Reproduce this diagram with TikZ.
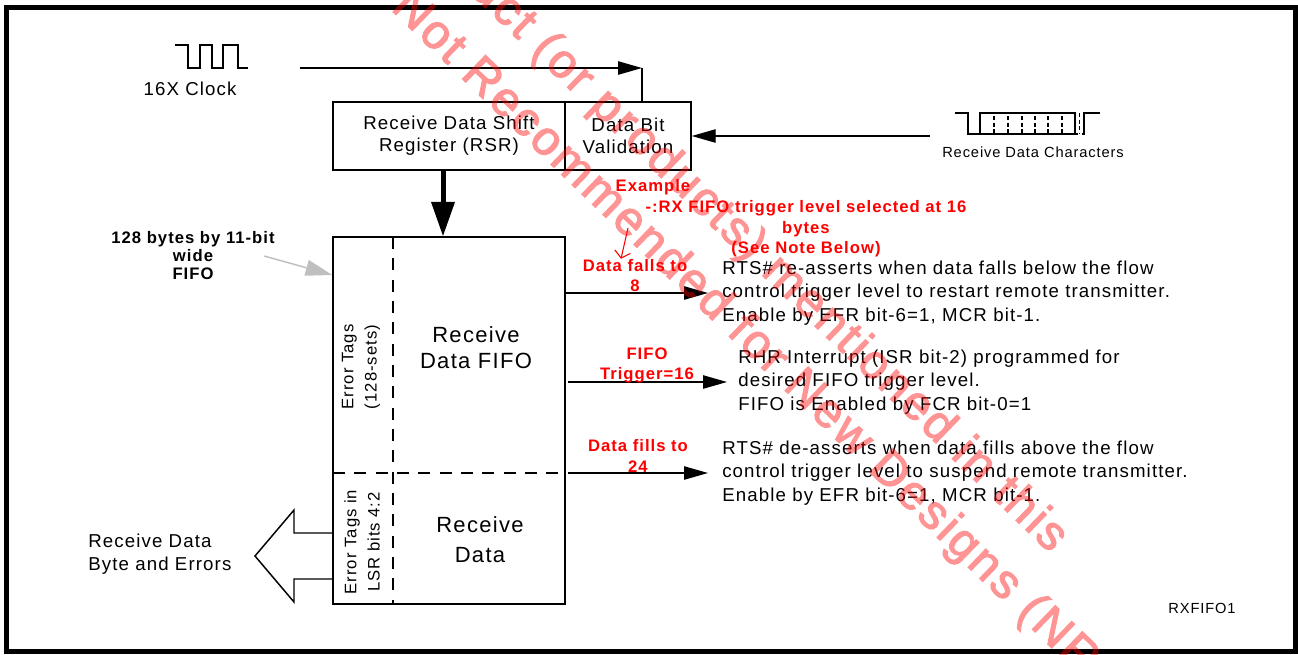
\documentclass[tikz,border=0pt]{standalone}
\usepackage{fontspec}
\setmainfont{Liberation Sans}[LetterSpace=6]
\newfontfamily\stampfont{Liberation Sans}[LetterSpace=6, FakeBold=2.5]
\usetikzlibrary{arrows.meta}

\begin{document}
\begin{tikzpicture}[x=0.75pt,y=-0.75pt]
\tikzset{line/.style = {draw, line width=1.1pt}}
\tikzset{edge/.style = {line, -{Triangle[length=18pt,width=10pt]}}}
\tikzset{bigedge/.style = {draw, line width=3.75pt, -{Triangle[length=26pt,width=17pt]}}}
\tikzset{greyedge/.style = {draw=black!25, fill=black!25, line width=1.1pt, -{Triangle[length=20pt,width=12pt]}}}
\tikzset{rednote/.style = {draw=red, line width=0.8pt, -{Straight Barb[length=5pt,width=12pt]}}}
\tikzset{dashline/.style = {line, dash pattern=on 9pt off 7pt}}
\tikzset{box/.style = {shape=rectangle, draw, line width=1.1pt, inner sep=0pt, align=center, font=\fontsize{14}{16.5}\selectfont}}
\tikzset{txt/.style = {inner sep=0pt, align=left, font=\fontsize{14}{17.6}\selectfont}}
\tikzset{desc/.style = {txt, anchor=west, inner xsep=10.5pt}}
\tikzset{small/.style = {inner sep=0pt, font=\fontsize{11}{13}\selectfont}}
\tikzset{bigtxt/.style = {inner sep=0pt, align=center, font=\fontsize{16.5}{20}\selectfont}}
\tikzset{sidetxt/.style = {inner sep=0pt, align=center, rotate=90, font=\fontsize{12.5}{17.5}\selectfont}}
\tikzset{boldlbl/.style = {inner sep=0pt, align=center, font=\fontsize{12.5}{13.5}\selectfont\bfseries}}
\tikzset{redlbl/.style = {inner sep=0pt, align=center, text=red, font=\fontsize{12.5}{15.5}\selectfont\bfseries}}
\tikzset{stamp/.style = {anchor=base west, rotate=-44, inner sep=0pt, text=red, font=\stampfont\fontsize{36}{43}\selectfont}}
\useasboundingbox (0,0) rectangle (1298,654);
\draw[line width=3.75pt] (6.5,7.5) rectangle (1295.5,651.5);

% shift register and validation
\node[box, minimum width=174pt, minimum height=51pt] (rsr) at (449,136) {Receive Data Shift\\Register (RSR)};
\node[box, minimum width=94.5pt, minimum height=51pt] (dbv) at (628,136) {Data Bit\\Validation};

% the fifo
\node[box, minimum width=174pt, minimum height=275pt] (fifo) at (449,420.5) {};
\draw[dashline] (393,237) -- (393,604);
\draw[dashline] (333,473) -- (565,473);
\node[sidetxt] (errtags) at (361,367) {Error Tags\\(128-sets)};
\node[sidetxt] (lsrtags) at (362,542) {Error Tags in\\LSR bits 4:2};
\node[bigtxt] (rxfifo) at (476,347.5) {Receive\\Data FIFO};
\node[bigtxt] (rxdata) at (480,539.5) {Receive\\[3pt]Data};

% clock
\draw[line] (175,45) -- (188,45) -- (188,68) -- (200,68) -- (200,45) -- (212,45) -- (212,68)
  -- (223,68) -- (223,45) -- (238,45) -- (238,68) -- (248,68);
\node[txt] (clk) at (190,89) {16X Clock};
\coordinate (clkin) at (300,68);
\coordinate (clkbend) at (642,68);
\draw[edge] (clkin) -- (clkbend);
\draw[line] (clkbend) -- (clkbend |- dbv.north);

% serial data
\draw[line] (955,113) -- (968,113) -- (968,134) -- (1078,134);
\draw[line] (980,134) -- (980,113) -- (1075,113) -- (1075,134);
\foreach \x in {994,1008,1022,1035,1048,1062}
  \draw[line width=1pt, dash pattern=on 3pt off 2pt] (\x,116) -- (\x,133);
\draw[line width=1pt, dash pattern=on 3pt off 2pt] (1079.5,113) -- (1079.5,134);
\draw[line] (1082,134) -- (1084,134) -- (1084,113) -- (1100,113);
\node[small] (rxchars) at (1033,152) {Receive Data Characters};
\coordinate (rxin) at (930,136);
\draw[edge] (rxin) -- (dbv.east);

% into the fifo
\draw[bigedge] ([xshift=-4.5pt]rsr.south) -- ([xshift=-4.5pt]fifo.north);
\node[boldlbl] (fifosize) at (193,256) {128 bytes by 11-bit\\wide\\FIFO};
\draw[greyedge] ([xshift=-8pt]fifosize.east) -- (fifo.west |- 0,275);

% flow control
\node[desc] (rtson) at (708,293) {RTS\# re-asserts when data falls below the flow\\control trigger level to restart remote transmitter.\\Enable by EFR bit-6=1, MCR bit-1.};
\node[desc, inner xsep=8.25pt] (rhrint) at (727,382) {RHR Interrupt (ISR bit-2) programmed for\\desired FIFO trigger level.\\FIFO is Enabled by FCR bit-0=1};
\node[desc] (rtsoff) at (708,473) {RTS\# de-asserts when data fills above the flow\\control trigger level to suspend remote transmitter.\\Enable by EFR bit-6=1, MCR bit-1.};
\draw[edge] (fifo.east |- rtson.west) -- (rtson.west);
\draw[edge] ([xshift=2pt]fifo.east |- rhrint.west) -- (rhrint.west);
\draw[edge] ([xshift=2pt]fifo.east |- rtsoff.west) -- (rtsoff.west);
\node[redlbl] (falls) at (635,275.5) {Data falls to\\8};
\node[redlbl] (trig) at (647,365.5) {FIFO\\Trigger=16};
\node[redlbl] (fills) at (638,456) {Data fills to\\24};
\node[redlbl] (example) at (653,187) {Example};
\node[redlbl] (level) at (806,229) {-:RX FIFO trigger level selected at 16\\bytes\\(See Note Below)};
\coordinate (hint) at (628,228);
\draw[rednote] (hint) -- ([xshift=-10.5pt]falls.north);

% output
\node[txt, anchor=west] (rxout) at (88,554) {Receive Data\\Byte and Errors};
\draw[line] (fifo.west |- 0,533) -- (294,533) -- (294,510) -- (255,556) -- (294,602) -- (294,579) -- (fifo.west |- 0,579);
\node[small] (figid) at (1202,608) {RXFIFO1};

% stamp
\begin{scope}[transparency group, opacity=0.42]
\clip (0,0) rectangle (1298,654);
\node[stamp] (stamp1) at (387,-87) {Product (or products) mentioned in this};
\node[stamp] (stamp2) at (390,9) {Not Recommended for New Designs (NR};
\end{scope}
\end{tikzpicture}
\end{document}
